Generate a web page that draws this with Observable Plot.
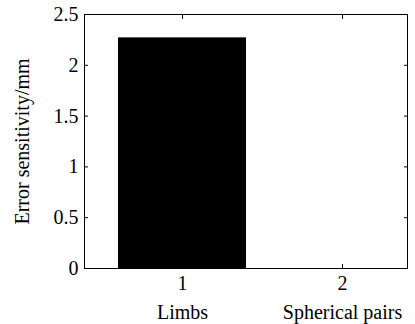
<!DOCTYPE html>
<html>
<head>
<meta charset="utf-8">
<script src="https://cdn.jsdelivr.net/npm/d3@7"></script>
<script src="https://cdn.jsdelivr.net/npm/@observablehq/plot@0.6"></script>
<style>
  body { margin: 0; background: #fff; }
</style>
</head>
<body>
<div id="chart"></div>
<script>
const categories = ["Limbs", "Spherical pairs"];
const positions = [1, 2];
const values = [2.27, 0];
const yTicks = [0, 0.5, 1, 1.5, 2, 2.5];
const yLabel = "Error sensitivity/mm";

const data = categories.map((c, i) => ({cat: c, pos: positions[i], value: values[i]}));
const barHalf = 0.4;
const catByPos = new Map(positions.map((p, i) => [p, categories[i]]));
const FS = 20;

const chart = Plot.plot({
  width: 415,
  height: 324,
  marginLeft: 84,
  marginTop: 14,
  marginRight: 8,
  marginBottom: 56,
  style: {fontFamily: "'Liberation Serif', 'Times New Roman', serif", fontSize: "20px", color: "#000", background: "#fff"},
  x: {domain: [0.3875, 2.40625], axis: null},
  y: {domain: [0, 2.5], axis: null},
  marks: [
    Plot.rectY(data, {x1: d => d.pos - barHalf, x2: d => d.pos + barHalf, y1: 0, y2: "value", fill: "#000"}),
    Plot.axisY(yTicks, {anchor: "left", tickSize: -4, tickPadding: 10, tickFormat: d => String(d), label: null, fontSize: FS, stroke: "#000", fill: "#000"}),
    Plot.axisY(yTicks, {anchor: "right", tickSize: -4, tickFormat: () => "", label: null, stroke: "#000"}),
    Plot.axisX(positions, {anchor: "bottom", tickSize: -4, tickPadding: 11, tickFormat: d => String(d), label: null, fontSize: FS, stroke: "#000", fill: "#000"}),
    Plot.axisX(positions, {anchor: "top", tickSize: -4, tickFormat: () => "", label: null, stroke: "#000"}),
    Plot.axisX(positions, {anchor: "bottom", tickSize: 0, tickPadding: 36, tickFormat: d => catByPos.get(d), label: null, fontSize: FS, fill: "#000"}),
    Plot.text([yLabel], {frameAnchor: "left", rotate: -90, dx: -62, fontSize: FS, fill: "#000", textAnchor: "middle", lineAnchor: "middle"}),
    Plot.frame({stroke: "#000", strokeWidth: 1})
  ]
});
document.getElementById("chart").appendChild(chart);
</script>
</body>
</html>
